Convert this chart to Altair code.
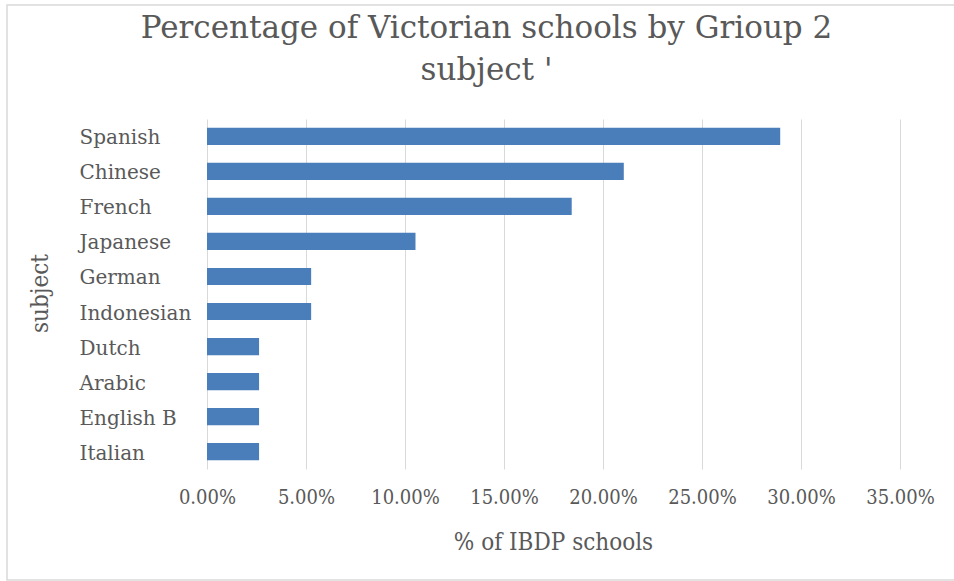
import altair as alt
import pandas as pd

subjects = ["Spanish", "Chinese", "French", "Japanese", "German", "Indonesian",
            "Dutch", "Arabic", "English B", "Italian"]
percent = [0.2895, 0.2105, 0.1842, 0.1053, 0.0526, 0.0526,
           0.0263, 0.0263, 0.0263, 0.0263]
x_ticks = [0, 0.05, 0.10, 0.15, 0.20, 0.25, 0.30, 0.35]

df = pd.DataFrame({"subject": subjects, "pct": percent})

COND = "DejaVu Serif Condensed, DejaVu Serif"
SERIF = "DejaVu Serif"
GREY = "#595959"

border = alt.Chart(pd.DataFrame({"a": [0]})).mark_rect(
    fill=None, stroke="#d9d9d9", strokeWidth=1.5
).encode(
    x=alt.value(-200), x2=alt.value(800),
    y=alt.value(-114), y2=alt.value(461),
)

bars = alt.Chart(df).mark_bar(color="#4a7ebb").encode(
    x=alt.X("pct:Q",
            scale=alt.Scale(domain=[0, 0.35], nice=False),
            axis=alt.Axis(values=x_ticks, format=".2%", title="% of IBDP schools",
                          ticks=False, domain=False, grid=True, gridColor="#d9d9d9",
                          gridWidth=1, labelPadding=18, labelFontSize=20,
                          labelFlush=False, labelOverlap=False,
                          labelColor=GREY, labelFont=COND,
                          titleFont=COND, titleFontSize=24, titleColor=GREY,
                          titleFontWeight="normal", titleY=73, titleBaseline="middle",
                          titleX=346)),
    y=alt.Y("subject:N", sort=subjects,
            scale=alt.Scale(paddingInner=0.51, paddingOuter=0.25),
            axis=alt.Axis(title="subject", ticks=False, domain=False, grid=False,
                          labelAlign="left", labelPadding=128, labelFontSize=20,
                          labelOffset=2,
                          labelColor=GREY, labelFont=SERIF,
                          titleFont=COND, titleFontSize=24, titleColor=GREY,
                          titleFontWeight="normal", titleAngle=270,
                          titleX=-167, titleY=174, titleAlign="center",
                          titleBaseline="middle")),
)

chart = alt.layer(border, bars).properties(
    width=693, height=350,
    padding={"left": 207, "top": 119, "right": 54, "bottom": 112},
    autosize=alt.AutoSizeParams(type="none"),
    view=alt.ViewBackground(stroke="transparent", strokeWidth=0),
    title=alt.TitleParams(
        text=["Percentage of Victorian schools by Grioup 2", "subject '"],
        font=SERIF, fontSize=31, fontWeight="normal", color=GREY,
        anchor="middle", frame="group", dx=-67, dy=114, offset=0, lineHeight=42,
        baseline="bottom",
    ),
).configure_view(stroke="transparent", strokeWidth=0).configure(background="white")

chart.save("out.html", embed_options={"renderer": "svg", "actions": False})
